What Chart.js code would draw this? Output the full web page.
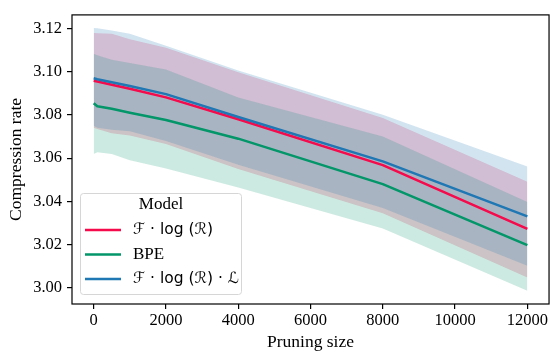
<!DOCTYPE html>
<html lang="en">
<head>
<meta charset="UTF-8">
<title>Compression rate vs pruning size</title>
<script src="https://cdn.jsdelivr.net/npm/chart.js@4.4.1/dist/chart.umd.min.js"></script>
<style>
    html, body { margin:0; padding:0; background:#fff; }
    #board { width:550px; height:358px; }
</style>
</head>
<body>
<div id="board"><canvas id="chart1" width="550" height="358"></canvas></div>
<script>
    // values
    const pruning = [0, 100, 500, 1000, 2000, 4000, 8000, 12000];

    const redMean  = [3.0958, 3.0954, 3.0939, 3.0921, 3.0881, 3.0780, 3.0568, 3.0273];
    const redUp    = [3.1178, 3.1177, 3.1175, 3.1150, 3.1110, 3.0997, 3.0785, 3.0491];
    const redLow   = [3.0740, 3.0735, 3.0715, 3.0705, 3.0665, 3.0550, 3.0345, 3.0049];

    const greenMean = [3.0854, 3.0840, 3.0828, 3.0810, 3.0776, 3.0690, 3.0480, 3.0198];
    const greenUp   = [3.1082, 3.1075, 3.1055, 3.1040, 3.1010, 3.0880, 3.0700, 3.0397];
    const greenLow  = [3.0619, 3.0627, 3.0619, 3.0590, 3.0552, 3.0464, 3.0275, 2.9987];

    const blueMean = [3.0969, 3.0965, 3.0951, 3.0933, 3.0896, 3.0790, 3.0585, 3.0331];
    const blueUp   = [3.1201, 3.1200, 3.1190, 3.1175, 3.1120, 3.1005, 3.0800, 3.0561];
    const blueLow  = [3.0750, 3.0740, 3.0731, 3.0724, 3.0679, 3.0570, 3.0370, 3.0103];

    const labels = ['\u2131 \u00b7 log (\u211b)', 'BPE', '\u2131 \u00b7 log (\u211b) \u00b7 \u2112'];
    const xTicks = [0, 2000, 4000, 6000, 8000, 10000, 12000];
    const yTicks = [3.00, 3.02, 3.04, 3.06, 3.08, 3.10, 3.12];

    const RED = 'rgb(245,10,75)';
    const GREEN = 'rgb(2,150,105)';
    const BLUE = 'rgb(31,119,180)';
    const colors = [RED, GREEN, BLUE];
    const fills = ['rgba(245,10,75,0.2)', 'rgba(2,150,105,0.2)', 'rgba(31,119,180,0.2)'];

    const pts = (arr) => arr.map((v, i) => ({x: pruning[i], y: v}));

    // chart.js paints higher "order" first, so bands get big numbers, lines small
    function band(arr, target, bg, order) {
        return {data: pts(arr), borderWidth: 0, pointRadius: 0, fill: target === null ? false : {target: target},
                backgroundColor: bg, borderColor: 'rgba(0,0,0,0)', tension: 0, order: order};
    }
    function line(arr, c, order) {
        return {data: pts(arr), borderColor: c, borderWidth: 2.5, pointRadius: 0, fill: false, tension: 0,
                borderCapStyle: 'butt', borderJoinStyle: 'round', order: order};
    }

    const SERIF = '"Liberation Serif", "Times New Roman", serif';
    const SANS = '"DejaVu Sans", sans-serif';

    // spines + legend
    const frame = {
        id: 'frame',
        afterDraw(chart) {
            const {ctx, chartArea: a} = chart;
            ctx.save();
            ctx.strokeStyle = '#000';
            ctx.lineWidth = 1.2;
            ctx.strokeRect(a.left, a.top, a.right - a.left, a.bottom - a.top);

            // legend box
            const bx = 80.5, by = 193.5, bw = 161, bh = 101;
            ctx.beginPath();
            ctx.roundRect(bx, by, bw, bh, 3);
            ctx.fillStyle = 'rgba(255,255,255,0.8)';
            ctx.fill();
            ctx.strokeStyle = '#d6d6d6';
            ctx.lineWidth = 1;
            ctx.stroke();

            ctx.fillStyle = '#000';
            ctx.textBaseline = 'middle';
            ctx.textAlign = 'center';
            ctx.font = '17px ' + SERIF;
            ctx.fillText('Model', bx + bw / 2, 205);

            const rows = [230, 254.5, 279];
            ctx.textAlign = 'left';
            rows.forEach((y, i) => {
                ctx.beginPath();
                ctx.moveTo(85, y);
                ctx.lineTo(121, y);
                ctx.strokeStyle = colors[i];
                ctx.lineWidth = 2.5;
                ctx.stroke();
                ctx.font = (i === 1 ? '17px ' + SERIF : '15.5px ' + SANS);
                ctx.fillStyle = '#000';
                ctx.fillText(labels[i], 133, y);
            });
            ctx.restore();
        }
    };

    const ctx = document.getElementById('chart1').getContext('2d');
    new Chart(ctx, {
        type: 'line',
        data: {
            datasets: [
                band(redUp, 1, fills[0], 10),
                band(redLow, null, fills[0], 9),
                band(greenUp, 3, fills[1], 8),
                band(greenLow, null, fills[1], 7),
                band(blueUp, 5, fills[2], 6),
                band(blueLow, null, fills[2], 5),
                line(redMean, RED, 2),
                line(greenMean, GREEN, 1),
                line(blueMean, BLUE, 0)
            ]
        },
        options: {
            responsive: false,
            animation: false,
            devicePixelRatio: 1,
            layout: {padding: {left: 0, right: 0.5, top: 5, bottom: 0}},
            plugins: {
                legend: {display: false},
                tooltip: {enabled: false},
                filler: {propagate: false}
            },
            scales: {
                x: {
                    type: 'linear',
                    min: -600,
                    max: 12600,
                    afterBuildTicks: (s) => { s.ticks = xTicks.map(v => ({value: v})); },
                    afterFit: (s) => { s.height = 54; },
                    border: {display: false},
                    grid: {drawOnChartArea: false, drawTicks: true, tickLength: 5, color: '#000', lineWidth: 1.2},
                    ticks: {color: '#000', font: {family: SERIF, size: 16.5}, padding: 2, maxRotation: 0,
                            callback: (v) => String(v)},
                    title: {display: true, text: 'Pruning size', color: '#000',
                            font: {family: SERIF, size: 17.5}, padding: {top: 0, bottom: 5}}
                },
                y: {
                    min: 2.9926,
                    max: 3.1262,
                    afterBuildTicks: (s) => { s.ticks = yTicks.map(v => ({value: v})); },
                    afterFit: (s) => { s.width = 72; },
                    border: {display: false},
                    grid: {drawOnChartArea: false, drawTicks: true, tickLength: 5, color: '#000', lineWidth: 1.2},
                    ticks: {color: '#000', font: {family: SERIF, size: 16.5}, padding: 5,
                            callback: (v) => Number(v).toFixed(2)},
                    title: {display: true, text: 'Compression rate', color: '#000',
                            font: {family: SERIF, size: 17.5}, padding: {top: 6, bottom: 0}}
                }
            }
        },
        plugins: [frame]
    });
</script>
</body>
</html>
